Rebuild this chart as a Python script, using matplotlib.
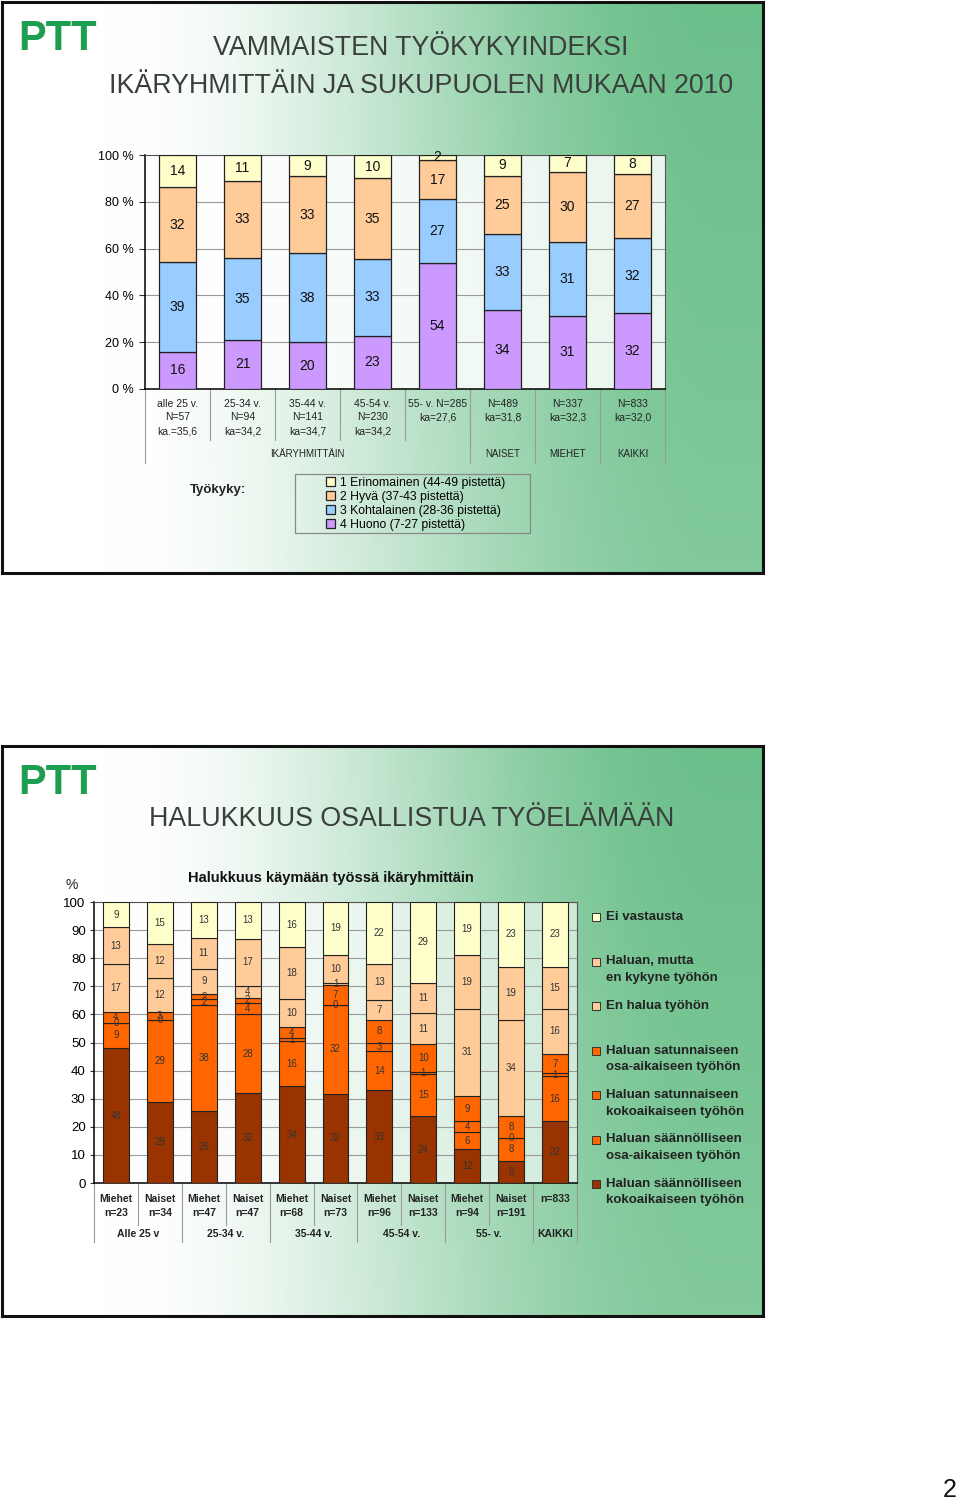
import numpy as np
import matplotlib.pyplot as plt
from matplotlib.patches import Rectangle

plt.rcParams['font.family'] = ['Liberation Sans', 'DejaVu Sans']

W, H = 960, 1501

# --- Dia 1: työkykyindeksi (alhaalta ylös: huono, kohtalainen, hyvä, erinomainen)
tk_cats = ['alle 25 v.\nN=57\nka.=35,6', '25-34 v.\nN=94\nka=34,2', '35-44 v.\nN=141\nka=34,7',
           '45-54 v.\nN=230\nka=34,2', '55- v. N=285\nka=27,6', 'N=489\nka=31,8',
           'N=337\nka=32,3', 'N=833\nka=32,0']
tk_groups = ['IKÄRYHMITTÄIN', 'NAISET', 'MIEHET', 'KAIKKI']
tk_group_pos = [2.0, 5, 6, 7]
huono = [16, 21, 20, 23, 54, 34, 31, 32]
kohtalainen = [39, 35, 38, 33, 27, 33, 31, 32]
hyva = [32, 33, 33, 35, 17, 25, 30, 27]
erinomainen = [14, 11, 9, 10, 2, 9, 7, 8]
tk_names = ['4 Huono (7-27 pistettä)', '3 Kohtalainen (28-36 pistettä)',
            '2 Hyvä (37-43 pistettä)', '1 Erinomainen (44-49 pistettä)']
tk_colors = ['#CC99FF', '#99CCFF', '#FFCC99', '#FFFFCC']

# --- Dia 2: halukkuus käymään työssä (alhaalta ylös)
hk_cats = ['Miehet\nn=23', 'Naiset\nn=34', 'Miehet\nn=47', 'Naiset\nn=47', 'Miehet\nn=68',
           'Naiset\nn=73', 'Miehet\nn=96', 'Naiset\nn=133', 'Miehet\nn=94', 'Naiset\nn=191', 'n=833']
hk_groups = ['Alle 25 v', '25-34 v.', '35-44 v.', '45-54 v.', '55- v.', 'KAIKKI']
hk_group_pos = [0.5, 2.5, 4.5, 6.5, 8.5, 10]
saann_koko = [48, 29, 26, 32, 34, 32, 33, 24, 12, 8, 22]
saann_osa = [9, 29, 38, 28, 16, 32, 14, 15, 6, 8, 16]
satun_koko = [0, 0, 2, 4, 1, 0, 3, 1, 4, 0, 1]
satun_osa = [4, 3, 2, 2, 4, 7, 8, 10, 9, 8, 7]
en_halua = [17, 12, 9, 4, 10, 1, 7, 11, 31, 34, 16]
haluan_mutta = [13, 12, 11, 17, 18, 10, 13, 11, 19, 19, 15]
ei_vastausta = [9, 15, 13, 13, 16, 19, 22, 29, 19, 23, 23]
hk_names = ['Haluan säännölliseen\nkokoaikaiseen työhön', 'Haluan säännölliseen\nosa-aikaiseen työhön',
            'Haluan satunnaiseen\nkokoaikaiseen työhön', 'Haluan satunnaiseen\nosa-aikaiseen työhön',
            'En halua työhön', 'Haluan, mutta\nen kykyne työhön', 'Ei vastausta']
hk_colors = ['#993300', '#FF6600', '#FF6600', '#FF6600', '#FFCC99', '#FFCC99', '#FFFFCC']


def rect(l, t, r, b):
    return [l / W, 1 - b / H, (r - l) / W, (b - t) / H]


def fx(px):
    return px / W


def fy(py):
    return 1 - py / H


fig = plt.figure(figsize=(W / 100, H / 100), dpi=100)


# taustat (valkoinen -> vihreä liukuväri)
def slide_bg(l, t, r, b):
    bg = fig.add_axes(rect(l, t, r, b), zorder=0)
    xs = np.linspace(0, 1, 300)
    ys = np.linspace(0, 1, 100)
    X, Y = np.meshgrid(xs, ys)
    tt = np.clip((X - 0.14) / 0.8, 0, 1)
    tt = tt * tt * (3 - 2 * tt) * (0.85 + 0.15 * (1 - Y))
    green = np.array([0.42, 0.75, 0.54])
    img = 1 - tt[..., None] * (1 - green)
    bg.imshow(img, extent=(0, 1, 0, 1), aspect='auto', origin='upper')
    bg.set_xticks([])
    bg.set_yticks([])
    for s in bg.spines.values():
        s.set_linewidth(2.2)
        s.set_color('#111111')
    return bg


slide_bg(2, 2, 763, 573)
slide_bg(2, 746, 763, 1316)

for y_logo in (39, 783):
    fig.text(fx(18), fy(y_logo), 'PTT', fontsize=30, weight='bold', color='#1E9E50',
             ha='left', va='center', zorder=5)

fig.text(fx(421), fy(48), 'VAMMAISTEN TYÖKYKYINDEKSI', fontsize=19.3, color='#3a3f3c',
         ha='center', va='center', zorder=5)
fig.text(fx(421), fy(86), 'IKÄRYHMITTÄIN JA SUKUPUOLEN MUKAAN 2010', fontsize=19.3,
         color='#3a3f3c', ha='center', va='center', zorder=5)
fig.text(fx(412), fy(819), 'HALUKKUUS OSALLISTUA TYÖELÄMÄÄN', fontsize=19.3, color='#3a3f3c',
         ha='center', va='center', zorder=5)

# ---------------- kaavio 1
ax1 = fig.add_axes(rect(145, 155, 665, 389), zorder=2)
ax1.set_facecolor((1, 1, 1, 0.85))
tk_data = np.array([huono, kohtalainen, hyva, erinomainen], dtype=float)
tk_pct = tk_data / tk_data.sum(axis=0) * 100
x1 = np.arange(len(tk_cats))
bottom = np.zeros(len(tk_cats))
bars1 = []
for vals, pct, col, name in zip(tk_data, tk_pct, tk_colors, tk_names):
    b = ax1.bar(x1, pct, 0.57, bottom=bottom, color=col, edgecolor='#222222', linewidth=0.9,
                label=name, zorder=3)
    bars1.append(b)
    for xi, v, p, b0 in zip(x1, vals, pct, bottom):
        ax1.text(xi, b0 + p / 2, f'{int(v)}', ha='center', va='center', fontsize=10,
                 color='#111111', zorder=4)
    bottom += pct
ax1.set_xlim(-0.5, len(tk_cats) - 0.5)
ax1.set_ylim(0, 100)
ax1.set_yticks(range(0, 101, 20))
ax1.set_yticklabels([f'{v} %' for v in range(0, 101, 20)])
ax1.set_xticks([])
ax1.tick_params(axis='y', labelsize=9, length=4, pad=4, color='#333333')
ax1.yaxis.grid(True, color='#9a9a9a', linewidth=0.8)
ax1.set_axisbelow(True)
for s in ('top', 'right'):
    ax1.spines[s].set_color('#555555')
    ax1.spines[s].set_linewidth(0.8)
for s in ('left', 'bottom'):
    ax1.spines[s].set_linewidth(1.1)

tr1 = ax1.get_xaxis_transform()
for xi, lab in zip(x1, tk_cats):
    ax1.text(xi, -0.042, lab, transform=tr1, ha='center', va='top', fontsize=7.5,
             linespacing=1.45, color='#222222')
for xp, lab in zip(tk_group_pos, tk_groups):
    ax1.text(xp, -0.278, lab, transform=tr1, ha='center', va='center', fontsize=7,
             color='#222222')
for xb in np.arange(-0.5, len(tk_cats), 1.0):
    depth = 0.316 if xb in (-0.5, 4.5, 5.5, 6.5, 7.5) else 0.218
    ax1.plot([xb, xb], [0, -depth], transform=tr1, clip_on=False, color='#9a9a9a', lw=0.8)

fig.text(fx(190), fy(490), 'Työkyky:', fontsize=9.5, weight='bold', ha='left', va='center',
         color='#222222')
fig.add_artist(Rectangle((fx(295), fy(533)), fx(235), 59 / H, transform=fig.transFigure,
                         facecolor='none', edgecolor='#8a8a8a', linewidth=0.9))
ax1.legend(handles=bars1[::-1], loc='upper left', bbox_to_anchor=(fx(326), fy(477)),
           bbox_transform=fig.transFigure, frameon=False, fontsize=8.8, handlelength=0.75,
           handleheight=0.75, handletextpad=0.4, labelspacing=0.16, borderpad=0,
           borderaxespad=0)

# ---------------- kaavio 2
fig.text(fx(188), fy(878), 'Halukkuus käymään työssä ikäryhmittäin', fontsize=10.5,
         weight='bold', ha='left', va='center', color='#111111')
fig.text(fx(72), fy(885), '%', fontsize=10, ha='center', va='center', color='#222222')

ax2 = fig.add_axes(rect(94, 902, 577, 1183), zorder=2)
ax2.set_facecolor((1, 1, 1, 0.6))
hk_data = np.array([saann_koko, saann_osa, satun_koko, satun_osa, en_halua, haluan_mutta,
                    ei_vastausta], dtype=float)
hk_pct = hk_data / hk_data.sum(axis=0) * 100
x2 = np.arange(len(hk_cats))
bottom = np.zeros(len(hk_cats))
for vals, pct, col in zip(hk_data, hk_pct, hk_colors):
    ax2.bar(x2, pct, 0.59, bottom=bottom, color=col, edgecolor='#222222', linewidth=0.8,
            zorder=3)
    for xi, v, p, b0 in zip(x2, vals, pct, bottom):
        ax2.text(xi, b0 + p / 2, f'{int(v)}', ha='center', va='center', fontsize=7,
                 color='#333333', zorder=4)
    bottom += pct
ax2.set_xlim(-0.5, len(hk_cats) - 0.5)
ax2.set_ylim(0, 100)
ax2.set_yticks(range(0, 101, 10))
ax2.set_xticks([])
ax2.tick_params(axis='y', labelsize=9.5, length=3, pad=3, color='#333333')
ax2.yaxis.grid(True, color='#9a9a9a', linewidth=0.8)
ax2.set_axisbelow(True)
for s in ('top', 'right'):
    ax2.spines[s].set_color('#555555')
    ax2.spines[s].set_linewidth(0.8)
for s in ('left', 'bottom'):
    ax2.spines[s].set_linewidth(1.1)

tr2 = ax2.get_xaxis_transform()
for xi, lab in zip(x2, hk_cats):
    ax2.text(xi, -0.04, lab, transform=tr2, ha='center', va='top', fontsize=7.5,
             weight='bold', linespacing=1.5, color='#222222')
for xp, lab in zip(hk_group_pos, hk_groups):
    ax2.text(xp, -0.182, lab, transform=tr2, ha='center', va='center', fontsize=7.5,
             weight='bold', color='#222222')
for xb in np.arange(-0.5, len(hk_cats), 1.0):
    depth = 0.21 if xb in (-0.5, 1.5, 3.5, 5.5, 7.5, 9.5, 10.5) else 0.15
    ax2.plot([xb, xb], [0, -depth], transform=tr2, clip_on=False, color='#9a9a9a', lw=0.8)

# selite oikealla
leg_y = 917
for name, col in zip(hk_names[::-1], hk_colors[::-1]):
    fig.add_artist(Rectangle((fx(592), fy(leg_y + 4)), 8 / W, 8 / H, transform=fig.transFigure,
                             facecolor=col, edgecolor='#333333', linewidth=0.7))
    fig.text(fx(606), fy(leg_y - 6), name, fontsize=9.5, weight='bold', ha='left', va='top',
             linespacing=1.5, color='#222222')
    leg_y += 44.5

fig.text(fx(950), fy(1490), '2', fontsize=18, ha='center', va='center', color='#111111')

fig.savefig('out.png', dpi=100)
